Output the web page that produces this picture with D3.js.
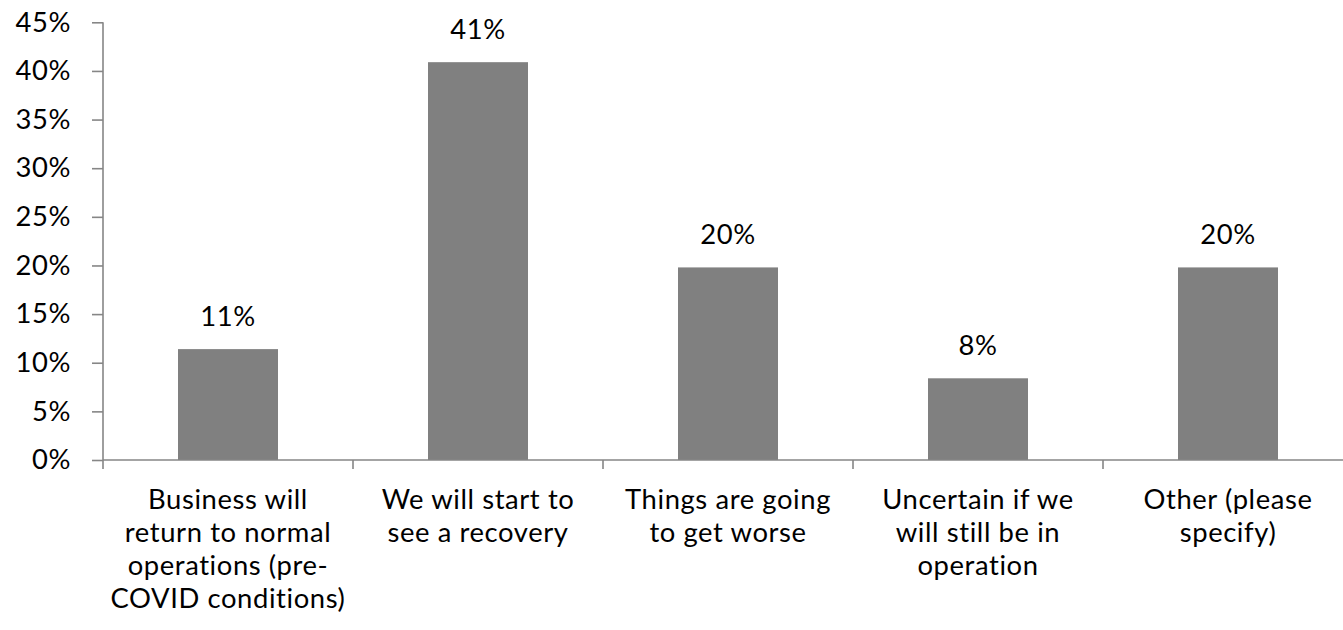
<!DOCTYPE html>
<html>
<head>
<meta charset="utf-8">
<script src="https://cdn.jsdelivr.net/npm/d3@7"></script>
<style>
  html, body { margin: 0; padding: 0; background: #fff; }
  svg { display: block; }
  text { font-family: Lato, "Open Sans", sans-serif; fill: #000; letter-spacing: 0.6px; }
</style>
</head>
<body>
<svg id="chart" width="1343" height="630"></svg>
<script>
// Survey answers and share of respondents
const categories = [
  "Business will return to normal operations (pre-COVID conditions)",
  "We will start to see a recovery",
  "Things are going to get worse",
  "Uncertain if we will still be in operation",
  "Other (please specify)"
];
const categoryLines = [
  ["Business will", "return to normal", "operations (pre-", "COVID conditions)"],
  ["We will start to", "see a recovery"],
  ["Things are going", "to get worse"],
  ["Uncertain if we", "will still be in", "operation"],
  ["Other (please", "specify)"]
];
const values = [0.114, 0.409, 0.198, 0.084, 0.198];
const yTicks = [0, 0.05, 0.10, 0.15, 0.20, 0.25, 0.30, 0.35, 0.40, 0.45];

const svg = d3.select("#chart");
const fontSize = 27.4;
const fontFamily = "Lato, 'Open Sans', sans-serif";
const axisColor = "#868686";

const x = d3.scaleBand()
  .domain(categories)
  .range([103, 1353])
  .paddingInner(0.6)
  .paddingOuter(0.3);

const y = d3.scaleLinear()
  .domain([0, 0.45])
  .range([460, 22.3]);

const pct = d3.format(".0%");
const gap = (x.step() - x.bandwidth()) / 2;

// Bars
svg.append("g")
  .selectAll("rect")
  .data(values)
  .join("rect")
  .attr("x", (d, i) => x(categories[i]))
  .attr("y", d => y(d))
  .attr("width", x.bandwidth())
  .attr("height", d => y(0) - y(d))
  .attr("fill", "#808080");

// Value labels above bars
svg.append("g")
  .selectAll("text")
  .data(values)
  .join("text")
  .attr("x", (d, i) => x(categories[i]) + x.bandwidth() / 2)
  .attr("y", d => y(d) - 23)
  .attr("text-anchor", "middle")
  .style("font-size", fontSize + "px")
  .text(d => pct(d));

// Y axis
const yAxis = svg.append("g")
  .attr("transform", "translate(103,0)")
  .call(d3.axisLeft(y).tickValues(yTicks).tickFormat(pct).tickSize(11).tickPadding(21));
yAxis.select(".domain").attr("stroke", axisColor).attr("stroke-width", 1.6)
  .attr("d", `M0,${y(0.45)}V${y(0)}`);
yAxis.selectAll(".tick line").attr("stroke", axisColor).attr("stroke-width", 1.6);
yAxis.selectAll(".tick text")
  .style("font-size", fontSize + "px")
  .style("font-family", fontFamily)
  .attr("fill", "#000");

// X axis: line at zero with ticks on band boundaries
const xg = svg.append("g");
xg.append("line")
  .attr("x1", 103).attr("x2", 1353)
  .attr("y1", y(0)).attr("y2", y(0))
  .attr("stroke", axisColor).attr("stroke-width", 1.6);
xg.selectAll("line.tick")
  .data(categories)
  .join("line")
  .attr("class", "tick")
  .attr("x1", d => x(d) - gap)
  .attr("x2", d => x(d) - gap)
  .attr("y1", y(0)).attr("y2", y(0) + 9)
  .attr("stroke", axisColor).attr("stroke-width", 1.6);

// Category labels, wrapped
const labels = xg.selectAll("text.cat")
  .data(categories)
  .join("text")
  .attr("class", "cat")
  .attr("text-anchor", "middle")
  .style("font-size", fontSize + "px")
  .attr("transform", d => `translate(${x(d) + x.bandwidth() / 2},509)`);
labels.each(function(d, i) {
  d3.select(this).selectAll("tspan")
    .data(categoryLines[i])
    .join("tspan")
    .attr("x", 0)
    .attr("y", (t, j) => j * 33)
    .text(t => t);
});
</script>
</body>
</html>
